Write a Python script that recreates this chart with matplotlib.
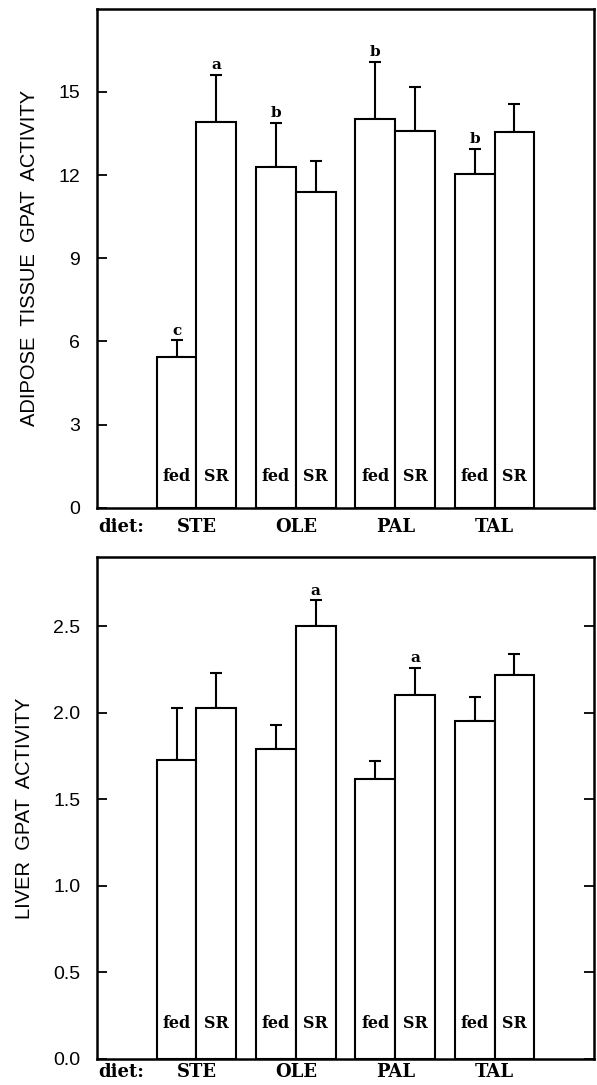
import numpy as np
import matplotlib.pyplot as plt

# diet groups and bar values
diets = ['STE', 'OLE', 'PAL', 'TAL']
conds = ['fed', 'SR']

adipose_fed = [5.45, 12.30, 14.03, 12.02]
adipose_fed_err = [0.59, 1.57, 2.05, 0.92]
adipose_sr = [13.93, 11.39, 13.59, 13.54]
adipose_sr_err = [1.68, 1.12, 1.57, 1.01]
adipose_fed_sig = ['c', 'b', 'b', 'b']
adipose_sr_sig = ['a', '', '', '']

liver_fed = [1.73, 1.79, 1.62, 1.95]
liver_fed_err = [0.30, 0.14, 0.10, 0.14]
liver_sr = [2.03, 2.50, 2.10, 2.22]
liver_sr_err = [0.20, 0.15, 0.16, 0.12]
liver_fed_sig = ['', '', '', '']
liver_sr_sig = ['', 'a', 'a', '']

SLAB = 'DejaVu Serif'
SANS = 'Liberation Sans'


def panel(ax, fed, fed_err, sr, sr_err, fed_sig, sr_sig, ylim, yticks, ylabel,
          tick_fmt, right_ticks, label_y, xpad):
    centers = np.arange(1, len(diets) + 1) * 2.5
    for vals, errs, sig, off, name in [(fed, fed_err, fed_sig, -0.5, conds[0]),
                                       (sr, sr_err, sr_sig, 0.5, conds[1])]:
        x = centers + off
        ax.bar(x, vals, width=1.0, color='white', edgecolor='black',
               linewidth=1.5, zorder=2)
        ax.errorbar(x, vals, yerr=[np.zeros(len(vals)), errs], fmt='none',
                    ecolor='black', elinewidth=1.5, capsize=4, capthick=1.5,
                    zorder=1)
        for xi, v, e, s in zip(x, vals, errs, sig):
            if s:
                ax.annotate(s, (xi, v + e), xytext=(0, 2), textcoords='offset points',
                            ha='center', va='bottom', fontsize=11,
                            fontweight='bold', family=SLAB)
            ax.text(xi, label_y, name, transform=ax.get_xaxis_transform(),
                    ha='center', va='center', fontsize=11.5, fontweight='bold',
                    family=SLAB)

    ax.set_xlim(0, 12.5)
    ax.set_ylim(*ylim)
    ax.set_yticks(yticks)
    ax.set_yticklabels([tick_fmt.format(t) for t in yticks], family=SANS,
                       fontsize=14)
    ax.tick_params(axis='y', direction='in', length=7, width=1.3, pad=12,
                   right=right_ticks)
    ax.set_xticks(centers)
    ax.set_xticklabels(diets, family=SLAB, fontweight='bold', fontsize=13)
    ax.tick_params(axis='x', length=0, pad=xpad)
    # "diet:" sits on the same line as the category labels
    ax.annotate('diet:', xy=(0.002, 0), xycoords='axes fraction',
                xytext=(0, -xpad), textcoords='offset points',
                ha='left', va='top', fontsize=13, fontweight='bold', family=SLAB)
    ax.set_ylabel(ylabel, family=SANS, fontsize=14.5, labelpad=14)
    for sp in ax.spines.values():
        sp.set_linewidth(1.8)


fig = plt.figure(figsize=(5.97, 10.85), dpi=100)
ax1 = fig.add_axes([0.1625, 0.532, 0.8325, 0.46])
ax2 = fig.add_axes([0.1625, 0.024, 0.8325, 0.4626])

panel(ax1, adipose_fed, adipose_fed_err, adipose_sr, adipose_sr_err,
      adipose_fed_sig, adipose_sr_sig, (0, 18), [0, 3, 6, 9, 12, 15],
      'ADIPOSE  TISSUE  GPAT  ACTIVITY', '{:g}', False, 0.062, 7)
panel(ax2, liver_fed, liver_fed_err, liver_sr, liver_sr_err,
      liver_fed_sig, liver_sr_sig, (0, 2.9), [0, 0.5, 1.0, 1.5, 2.0, 2.5],
      'LIVER  GPAT  ACTIVITY', '{:.1f}', True, 0.07, 3)

fig.savefig('out.png', dpi=100)
